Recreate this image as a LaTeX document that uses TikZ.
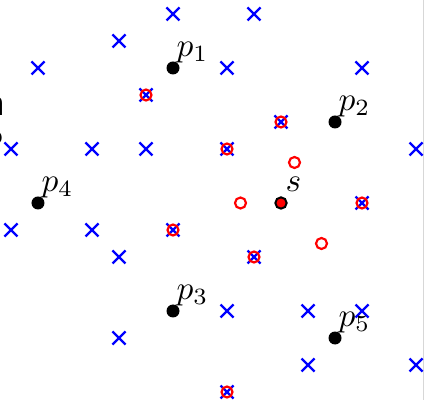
\documentclass[tikz,border=0pt]{standalone}
\usetikzlibrary{shapes.misc}
\definecolor{xblue}{RGB}{0,0,255}
\definecolor{ored}{RGB}{255,0,0}
\definecolor{edgegray}{RGB}{215,215,215}
\begin{document}
\begin{tikzpicture}[x=8.1pt,y=8.1pt,
  xmark/.style={cross out,draw=xblue,line width=0.7pt,minimum size=3.2pt,inner sep=0pt},
  omark/.style={circle,draw=ored,line width=0.65pt,minimum size=3.3pt,inner sep=0pt},
  pdot/.style={circle,fill=black,minimum size=3.9pt,inner sep=0pt},
  sdot/.style={circle,fill=ored,draw=black,line width=0.6pt,minimum size=3.4pt,inner sep=0pt},
  plab/.style={anchor=south west,inner sep=0pt,xshift=0.9pt,yshift=1.4pt}]
\useasboundingbox (-281/27,-197/27) rectangle (145/27,203/27);
% right edge line
\coordinate (et) at (142.5/27,203/27);
\coordinate (eb) at (142.5/27,-197/27);
\draw[edgegray,line width=0.45pt] (et) -- (eb);
% clipped text fragments at left edge
\node[anchor=base east,inner sep=0pt,font=\sffamily\large] (fa) at (-274.5/27,87/27) {n};
\node[anchor=base east,inner sep=0pt,font=\sffamily] (fb) at (-277.5/27,57/27) {o};
% crosses
\node[xmark] (x1) at (-4,7) {};
\node[xmark] (x2) at (-1,7) {};
\node[xmark] (x3) at (-6,6) {};
\node[xmark] (x4) at (-9,5) {};
\node[xmark] (x5) at (-2,5) {};
\node[xmark] (x6) at (3,5) {};
\node[xmark] (x7) at (-5,4) {};
\node[xmark] (x8) at (0,3) {};
\node[xmark] (x9) at (-10,2) {};
\node[xmark] (x10) at (-7,2) {};
\node[xmark] (x11) at (-5,2) {};
\node[xmark] (x12) at (-2,2) {};
\node[xmark] (x13) at (5,2) {};
\node[xmark] (x14) at (3,0) {};
\node[xmark] (x15) at (-10,-1) {};
\node[xmark] (x16) at (-7,-1) {};
\node[xmark] (x17) at (-4,-1) {};
\node[xmark] (x18) at (-6,-2) {};
\node[xmark] (x19) at (-1,-2) {};
\node[xmark] (x20) at (-2,-4) {};
\node[xmark] (x21) at (1,-4) {};
\node[xmark] (x22) at (3,-4) {};
\node[xmark] (x23) at (-6,-5) {};
\node[xmark] (x24) at (1,-6) {};
\node[xmark] (x25) at (5,-6) {};
\node[xmark] (x26) at (-2,-7) {};
% circles
\node[omark] (o1) at (-5,4) {};
\node[omark] (o2) at (0,3) {};
\node[omark] (o3) at (-2,2) {};
\node[omark] (o4) at (3,0) {};
\node[omark] (o5) at (-4,-1) {};
\node[omark] (o6) at (-1,-2) {};
\node[omark] (o7) at (-2,-7) {};
\node[omark] (o8) at (0.5,1.5) {};
\node[omark] (o9) at (-1.5,0) {};
\node[omark] (o10) at (1.5,-1.5) {};
% points
\node[pdot] (p1) at (-4,5) {};
\node[pdot] (p2) at (2,3) {};
\node[pdot] (p3) at (-4,-4) {};
\node[pdot] (p4) at (-9,0) {};
\node[pdot] (p5) at (2,-5) {};
\node[sdot] (s) at (0,0) {};
\node[plab] (l1) at (p1.center) {$p_1$};
\node[plab] (l2) at (p2.center) {$p_2$};
\node[plab] (l3) at (p3.center) {$p_3$};
\node[plab] (l4) at (p4.center) {$p_4$};
\node[plab] (l5) at (p5.center) {$p_5$};
\node[anchor=south west,inner sep=0pt,xshift=1.2pt,yshift=3.3pt] (ls) at (s.center) {$s$};
\end{tikzpicture}
\end{document}
